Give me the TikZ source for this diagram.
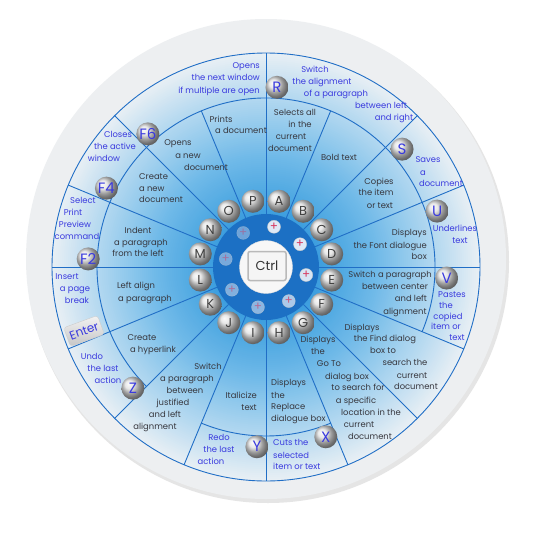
\documentclass[tikz,border=0pt]{standalone}
\usepackage{fontspec}
\newfontfamily\pop{Poppins}
\usetikzlibrary{calc,shapes.misc}
\definecolor{lineblue}{RGB}{32,110,198}
\definecolor{darkdisc}{RGB}{28,112,196}
\definecolor{otxt}{RGB}{58,58,222}
\definecolor{mtxt}{RGB}{55,55,62}
\definecolor{rim}{RGB}{237,239,241}
\definecolor{plusred}{RGB}{215,45,85}
\definecolor{gA}{RGB}{232,239,244}
\definecolor{gB}{RGB}{178,216,240}
\definecolor{gC}{RGB}{110,185,232}
\definecolor{gD}{RGB}{60,158,222}
\begin{document}
\begin{tikzpicture}[x=1pt,y=-1pt,
 sepline/.style={draw=lineblue, line width=0.9pt},
 mtext/.style={font=\pop\fontsize{8.4}{10}\selectfont, text=mtxt, inner sep=0pt, text height=6pt, text depth=1.7pt},
 otext/.style={mtext, text=otxt},
 iball/.style={circle, minimum size=23pt, inner sep=0pt, ball color=black!12, text=black!75, font=\pop\fontsize{13}{13}\selectfont},
 oball/.style={iball, text=otxt, font=\pop\fontsize{15}{15}\selectfont},
 fkey/.style={text=otxt, font=\pop\fontsize{15}{15}\selectfont, inner sep=0pt},
 pluscirc/.style={circle, minimum size=13pt, inner sep=0pt, fill=white!90!lineblue, draw=gray!40, text=plusred, font=\pop\fontsize{12}{12}\selectfont},
 enterkey/.style={rectangle, rounded corners=3pt, minimum width=36pt, minimum height=20pt, inner sep=0pt, top color=gray!10, bottom color=gray!45, draw=gray!40, text=otxt, font=\pop\fontsize{12}{12}\selectfont},
 ctrlkey/.style={rectangle, rounded corners=2pt, minimum width=38pt, minimum height=29pt, fill=gray!8, draw=gray!55, line width=1.5pt, text=black!80, font=\pop\fontsize{13}{13}\selectfont}
]
\useasboundingbox (0,0) rectangle (533,533);
\fill[white] (0,0) rectangle (533,533);
\coordinate (c) at (266,267);
% rim and shadow
\fill[black!10] (268,262) circle (241pt);
\fill[rim] (266,259) circle (240pt);
% main disc: concentric gradient
\foreach \r in {214,212,...,170} {
  \pgfmathsetmacro\p{(214-\r)/44*100}
  \fill[gB!\p!gA] (c) circle (\r pt);
}
\foreach \r in {168,166,...,112} {
  \pgfmathsetmacro\p{(169-\r)/59*100}
  \fill[gC!\p!gB] (c) circle (\r pt);
}
\foreach \r in {110,108,...,54} {
  \pgfmathsetmacro\p{(110-\r)/57*100}
  \fill[gD!\p!gC] (c) circle (\r pt);
}
\fill[darkdisc] (c) circle (53pt);
\begin{scope}[shift={(c)}, y=1pt]
 \foreach \a in {0,22.5,45,90,135,157.5,180,202.5,225,247.5,270,292.5,315,337.5}
   \draw[sepline] (\a:53) -- (\a:214);
 \foreach \a in {67.5,112.5}
   \draw[sepline] (\a:53) -- (\a:169);
 \draw[sepline] (-22.5:169) arc[start angle=-22.5, end angle=225, radius=169];
 \draw[sepline] (247.5:169) arc[start angle=247.5, end angle=292.5, radius=169];
 \draw[sepline] (0,0) circle (214);
 % plus circles
 \foreach \a/\op [count=\i] in {78.75/0.95,33.75/0.95,-11.25/0.92,-56.25/0.7,-101.25/0.55,-146.25/0.5,168.75/0.45,123.75/0.4}
   \node[pluscirc, opacity=\op] (pl\i) at (\a:41) {+};
 % inner letter balls
 \foreach \L [count=\i from 0] in {A,B,C,D,E,F,G,H,I,J,K,L,M,N,O,P}
   \node[iball] (b\L) at ({78.75-22.5*\i}:67) {\L};
 % outer key balls
 \node[oball] (kR) at (86.5:180) {R};
 \node[oball] (kS) at (40.9:180) {S};
 \node[oball] (kU) at (18.1:180) {U};
 \node[oball] (kV) at (-3.5:181) {V};
 \node[oball] (kX) at (-70.6:180) {X};
 \node[oball] (kY) at (-92.9:180) {Y};
 \node[oball] (kZ) at (-137.7:180) {Z};
 \node[iball] (kF2) at (177.4:178) {};
 \node[iball] (kF4) at (153.7:178) {};
 \node[iball] (kF6) at (131.6:178) {};
\end{scope}
\node[fkey] (lF2) at (kF2) {F2};
\node[fkey] (lF4) at (kF4) {F4};
\node[fkey] (lF6) at (kF6) {F6};
\node[enterkey, rotate=20] (kEnter) at (84,331) {Enter};
% Ctrl
\filldraw[fill=white!94!gray, draw=gray!25] (266,267) circle (26.5pt);
\node[ctrlkey] (ctrl) at (267,266) {Ctrl};
% outer texts
\foreach \nm/\xx/\yy/\tx in {oRa/315/70/Switch, oRb/322/82/the alignment, oRc/336/94/of a paragraph, oRd/381/106/between left, oRe/394/118/and right,
 oSa/428/160/Saves, oSb/423/173/a, oSc/441/184/document,
 oUa/455/229/Underlines, oUb/460/241/text,
 oVa/452/295/Pastes, oVb/446/306/the, oVc/448/317/copied, oVd/446/327/item or, oVe/457/338/text,
 oYa/219/438/Redo, oYb/219/450/the last, oYc/211/462/action,
 oZa/92/357/Undo, oZb/103/369/the last, oZc/108/381/action,
 oEa/67/277/Insert, oEb/75/289/a page, oEc/77/301/break,
 oFa/83/201/Select, oFb/73/213/Print, oFc/75/225/Preview, oFd/77/237/command,
 oGa/118/135/Closes, oGb/115/147/the active, oGc/104/159/window}
  \node[otext] (\nm) at (\xx,\yy) {\tx};
\foreach \nm/\xx/\yy/\tx in {oHa/260/66/Opens, oHb/260/78/the next window, oHc/260/91/if multiple are open}
  \node[otext, anchor=east] (\nm) at (\xx,\yy) {\tx};
\foreach \nm/\xx/\yy/\tx in {oXa/273/443/Cuts the, oXb/273/456/selected, oXc/273/467/item or text}
  \node[otext, anchor=west] (\nm) at (\xx,\yy) {\tx};
% middle texts
\foreach \nm/\xx/\yy/\tx in {mPa/221/120/Prints, mPb/241/131/a document,
 mAa/295/113/Selects all, mAb/300/125/in the, mAc/291/137/current, mAd/290/149/document,
 mBa/339/158/Bold text,
 mCa/379/182/Copies, mCb/376/193/the item, mCc/380/206/or text,
 mEa/390/275/Switch a paragraph, mEb/395/287/between center, mEc/411/299/and left, mEd/405/312/alignment,
 mFa/362/328/Displays, mFb/385/339/the Find dialog, mFc/383/351/box to, mFd/405/363/search the, mFe/412/376/current, mFf/416/387/document,
 mGa/318/340/Displays, mGb/318/352/the, mGc/329/364/Go To, mGd/347/377/dialog box, mGe/358/388/to search for, mGf/356/401/a specific, mGg/371/413/location in the, mGh/359/425/current, mGi/370/437/document,
 mJa/208/367/Switch, mJb/187/379/a paragraph, mJc/185/391/between, mJd/173/403/justified, mJe/165/415/and left, mJf/155/427/alignment,
 mKa/142/338/Create, mKb/153/350/a hyperlink,
 mLa/136/286/Left align, mLb/145/299/a paragraph,
 mMa/138/231/Indent, mMb/141/243/a paragraph, mMc/138/254/from the left,
 mOa/178/143/Opens, mOb/188/156/a new, mOc/206/168/document}
  \node[mtext] (\nm) at (\xx,\yy) {\tx};
\foreach \nm/\xx/\yy/\tx in {mDa/427/233/Displays, mDb/427/246/the Font dialogue, mDc/427/257/box, mIa/257/396/Italicize, mIb/257/408/text}
  \node[mtext, anchor=east] (\nm) at (\xx,\yy) {\tx};
\foreach \nm/\xx/\yy/\tx in {mHa/271/383/Displays, mHb/271/396/the, mHc/271/407/Replace, mHd/271/419/dialogue box, mNa/139/177/Create, mNb/139/189/a new, mNc/139/200/document}
  \node[mtext, anchor=west] (\nm) at (\xx,\yy) {\tx};
\end{tikzpicture}
\end{document}
